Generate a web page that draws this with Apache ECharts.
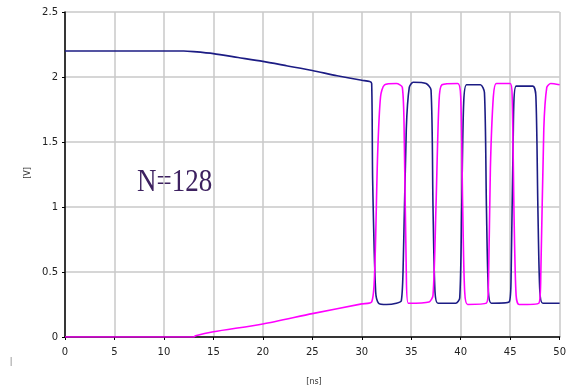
<!DOCTYPE html>
<html><head><meta charset="utf-8">
<script src="https://cdn.jsdelivr.net/npm/echarts@6/dist/echarts.min.js"></script>
<style>html,body{margin:0;padding:0;background:#fff}#c{width:569px;height:390px}</style>
</head><body><div id="c"></div>
<script>
const xTicks = [0,5,10,15,20,25,30,35,40,45,50];
const yTicks = [0,0.5,1,1.5,2,2.5];
const blueT = [0,5,10,12,13,15,17.5,20,22.5,25,27.5,30,30.8,31.0,31.1,31.4,31.7,32.5,33.5,34.0,34.2,34.5,34.8,35.2,36.5,37.0,37.2,37.4,37.7,39.5,39.9,40.1,40.3,40.6,42.0,42.4,42.6,42.8,43.1,44.9,45.1,45.3,45.6,47.3,47.6,47.8,48.0,48.3,50];
const blueV = [2.2,2.2,2.2,2.2,2.195,2.18,2.15,2.12,2.085,2.05,2.01,1.975,1.965,1.95,1.2,0.35,0.26,0.25,0.26,0.28,0.6,1.6,1.92,1.96,1.95,1.9,1.0,0.35,0.26,0.26,0.3,1.0,1.8,1.94,1.94,1.88,1.0,0.35,0.26,0.27,0.5,1.5,1.93,1.93,1.85,1.0,0.35,0.26,0.26];
const pinkT = [0,13,13.2,15,20,25,30,31.0,31.3,31.6,31.9,32.3,33.5,34.1,34.3,34.5,34.7,36.8,37.2,37.5,37.8,38.1,39.7,40.0,40.2,40.4,40.7,42.6,42.8,43.0,43.3,43.6,45.0,45.2,45.4,45.6,45.9,47.9,48.1,48.4,48.7,49.1,50];
const pinkV = [0,0,0.01,0.04,0.1,0.18,0.255,0.27,0.5,1.4,1.85,1.94,1.95,1.92,1.5,0.5,0.26,0.27,0.32,1.0,1.8,1.94,1.95,1.85,1.0,0.35,0.25,0.26,0.4,1.3,1.85,1.95,1.95,1.85,0.9,0.32,0.25,0.26,0.5,1.6,1.92,1.95,1.94];

const zip = (t, v) => t.map((x, i) => [x, v[i]]);
const chart = echarts.init(document.getElementById('c'), null, {renderer:'canvas'});
const lbl = {fontFamily:'DejaVu Sans', fontSize:10, color:'#222'};
chart.setOption({
  animation:false,
  backgroundColor:'#fff',
  grid:{left:65,right:4,top:12,bottom:53,containLabel:false},
  xAxis:{type:'value',min:0,max:50,interval:5,
    axisLine:{show:true,onZero:false,lineStyle:{color:'#000',width:1.5}},
    axisTick:{show:true,length:3,lineStyle:{color:'#000'}},
    axisLabel:Object.assign({margin:10},lbl),
    splitLine:{show:true,lineStyle:{color:'#c8c8c8',width:1.5}}},
  yAxis:{type:'value',min:0,max:2.5,interval:0.5,
    axisLine:{show:true,lineStyle:{color:'#000',width:1.5}},
    axisTick:{show:true,length:3,lineStyle:{color:'#000'}},
    axisLabel:Object.assign({margin:7},lbl),
    splitLine:{show:true,lineStyle:{color:'#c8c8c8',width:1.5}}},
  series:[
    {type:'line',data:zip(blueT,blueV),showSymbol:false,symbol:'none',smooth:0.25,
      lineStyle:{color:'#1c1c84',width:1.6},z:3},
    {type:'line',data:zip(pinkT,pinkV),showSymbol:false,symbol:'none',smooth:0.25,
      lineStyle:{color:'#ff00ff',width:1.6},z:4}
  ],
  graphic:[
    {type:'text',left:137,top:166,scaleY:1.2,style:{text:'N=128',fontFamily:'Liberation Serif',fontSize:27,fill:'#3d2160'}},
    {type:'text',x:28,y:173,rotation:Math.PI/2,style:{text:'[V]',fontFamily:'DejaVu Sans',fontSize:8,fill:'#333',textAlign:'center',textVerticalAlign:'middle'}},
    {type:'text',x:314,y:382,style:{text:'[ns]',fontFamily:'DejaVu Sans',fontSize:8,fill:'#333',textAlign:'center',textVerticalAlign:'middle'}},
    {type:'text',x:11,y:362,style:{text:'|',fontFamily:'DejaVu Sans',fontSize:8,fill:'#777',textAlign:'center',textVerticalAlign:'middle'}}
  ]
});
</script></body></html>
